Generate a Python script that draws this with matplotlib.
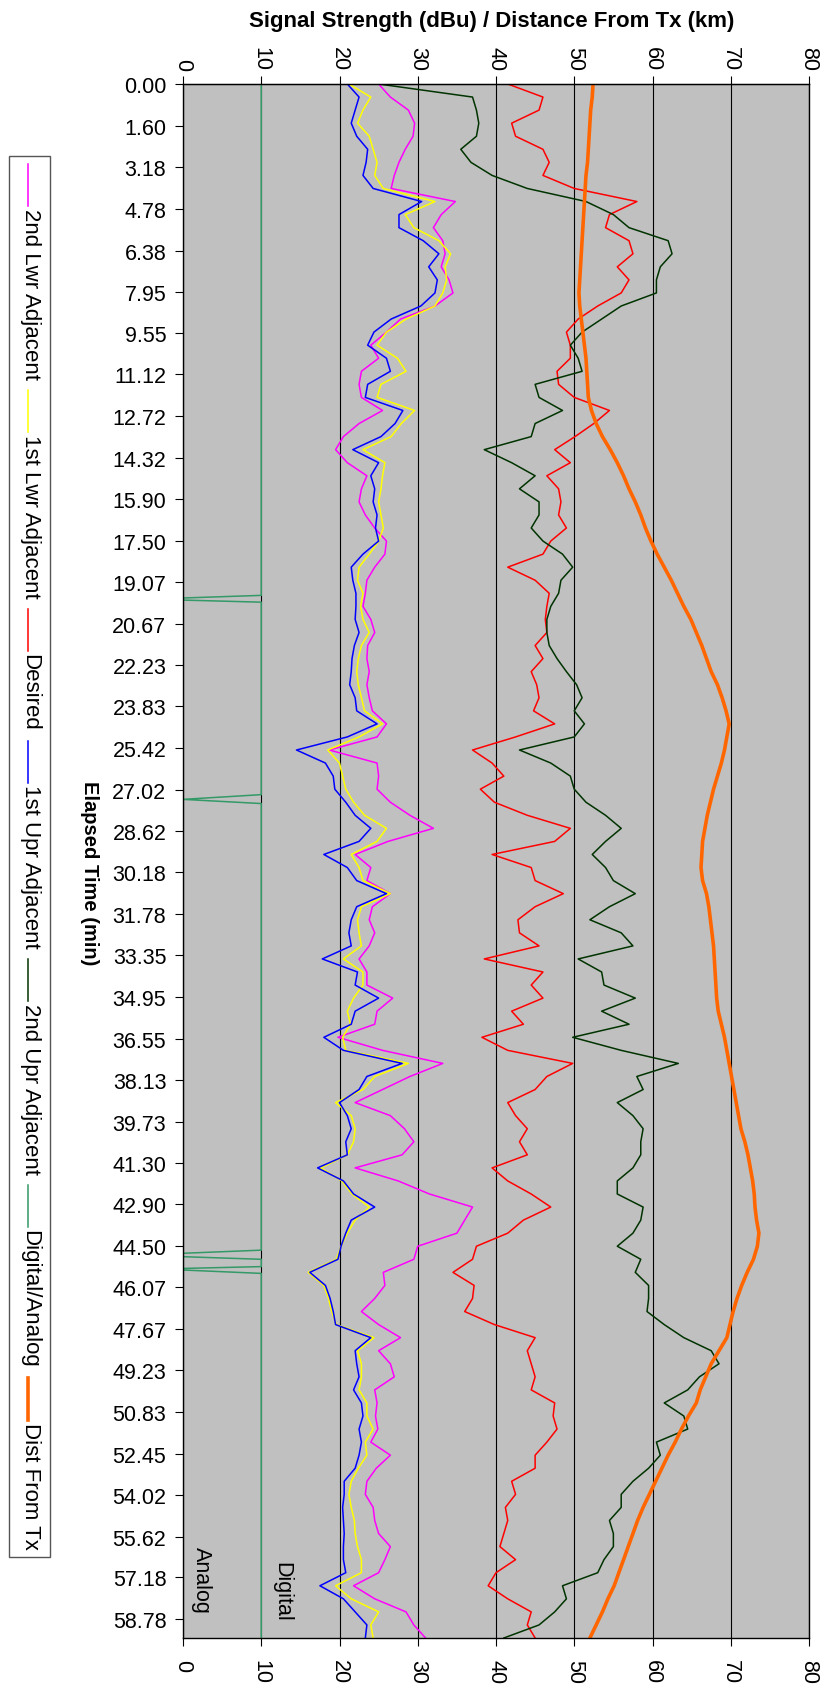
import matplotlib
matplotlib.use('Agg')
import matplotlib.pyplot as plt
import numpy as np
from matplotlib.lines import Line2D
from matplotlib.patches import Rectangle

plt.rcParams['font.family'] = ['Liberation Sans', 'DejaVu Sans']

# elapsed time samples (min), one reading every half minute
minutes = np.arange(0, 60, 0.5)

time_labels = ['0.00', '1.60', '3.18', '4.78', '6.38', '7.95', '9.55', '11.12', '12.72',
               '14.32', '15.90', '17.50', '19.07', '20.67', '22.23', '23.83', '25.42',
               '27.02', '28.62', '30.18', '31.78', '33.35', '34.95', '36.55', '38.13',
               '39.73', '41.30', '42.90', '44.50', '46.07', '47.67', '49.23', '50.83',
               '52.45', '54.02', '55.62', '57.18', '58.78']

lwr2 = [25.0, 26.5, 28.8, 29.6, 29.4, 28.4, 27.6, 27.0, 26.6, 34.8, 33.0, 32.0, 33.2, 33.5, 33.0, 34.0, 34.5, 32.2, 27.8, 26.0, 24.0,
        25.0, 22.8, 22.5, 22.8, 25.5, 22.5, 20.5, 19.5, 21.0, 23.5, 22.8, 22.5, 23.3, 24.5, 26.0, 25.8, 24.5, 23.5, 23.3, 23.0,
        24.0, 24.5, 23.6, 23.5, 23.8, 23.5, 23.8, 24.2, 26.0, 24.8, 18.7, 24.8, 25.0, 24.8, 26.5, 29.0, 32.0, 26.2, 22.0, 24.0,
        23.5, 26.5, 24.2, 23.8, 24.5, 23.8, 22.5, 23.5, 23.5, 26.8, 24.8, 24.5, 19.8, 25.5, 33.2, 29.0, 25.5, 22.0, 26.5, 28.3,
        29.5, 28.0, 22.0, 27.5, 31.5, 37.0, 36.0, 35.0, 30.0, 29.5, 25.6, 25.8, 24.5, 22.8, 25.0, 27.8, 25.0, 26.5, 27.0, 24.5,
        24.8, 24.6, 24.9, 24.0, 26.5, 24.7, 23.5, 23.3, 24.3, 24.5, 25.0, 26.5, 25.8, 25.0, 21.8, 24.5, 28.5, 29.5, 31.0]

lwr1 = [21.2, 24.0, 23.0, 22.3, 23.8, 24.3, 24.8, 24.5, 25.6, 32.2, 28.4, 29.5, 32.7, 34.2, 33.5, 33.7, 33.2, 32.2, 28.5, 26.0, 24.8,
        27.4, 28.5, 25.3, 24.8, 29.6, 27.9, 26.6, 23.0, 25.8, 25.5, 25.3, 25.0, 25.3, 25.6, 25.0, 23.8, 22.5, 22.3, 23.0, 22.7,
        23.0, 23.8, 22.8, 22.4, 22.2, 22.4, 22.8, 23.2, 25.5, 22.5, 18.5, 20.0, 20.4, 20.8, 21.8, 23.2, 26.0, 24.8, 21.5, 22.5,
        23.0, 26.5, 22.8, 22.3, 22.5, 22.8, 20.5, 23.0, 23.0, 21.8, 21.0, 21.4, 20.4, 20.8, 28.8, 24.5, 23.0, 19.5, 21.5, 22.0,
        21.8, 21.0, 17.6, 20.3, 21.6, 23.8, 22.0, 21.0, 20.2, 19.6, 16.0, 18.0, 18.6, 19.0, 19.6, 24.4, 22.3, 22.8, 22.8, 22.5,
        23.5, 23.5, 24.3, 23.3, 23.5, 22.4, 21.5, 21.2, 21.5, 21.9, 22.0, 22.3, 22.8, 22.8, 19.5, 21.5, 25.0, 24.0, 24.3]

desired = [41.5, 46.0, 45.5, 42.0, 42.5, 46.0, 46.8, 46.0, 50.0, 58.0, 54.5, 54.0, 57.0, 57.5, 55.5, 57.0, 56.0, 53.0, 50.5, 49.0, 49.5,
           49.5, 47.8, 48.0, 50.0, 54.5, 52.5, 50.1, 47.5, 49.5, 46.5, 48.0, 48.3, 48.0, 49.0, 47.0, 46.0, 41.5, 45.0, 46.8, 46.5,
           46.3, 46.5, 45.0, 46.0, 44.5, 45.2, 45.5, 44.8, 47.5, 42.5, 37.0, 39.5, 41.0, 38.0, 39.8, 44.0, 49.5, 47.5, 39.5, 44.5,
           45.0, 48.6, 45.0, 42.8, 43.0, 45.5, 38.5, 46.0, 44.5, 46.0, 42.0, 43.5, 38.2, 41.5, 49.8, 46.5, 45.0, 41.5, 42.5, 44.0,
           43.0, 44.0, 39.5, 41.5, 44.5, 47.0, 43.5, 41.5, 37.5, 37.0, 34.5, 37.2, 37.0, 36.0, 39.8, 45.0, 44.0, 44.5, 45.0, 44.5,
           47.5, 47.3, 47.8, 46.5, 45.0, 45.0, 42.0, 42.5, 41.2, 41.5, 41.0, 40.5, 42.5, 40.0, 39.0, 41.5, 44.5, 44.0, 45.0]

upr1 = [21.0, 22.5, 22.0, 21.5, 22.2, 23.6, 23.4, 23.0, 24.3, 30.5, 27.6, 27.6, 30.7, 32.7, 31.4, 32.5, 32.2, 30.4, 26.6, 24.4, 23.6,
        26.0, 26.5, 23.6, 23.3, 28.1, 27.1, 25.3, 21.7, 25.0, 24.0, 24.5, 24.3, 24.8, 24.6, 25.0, 23.0, 21.5, 21.7, 22.1, 22.1,
        22.0, 22.5, 21.9, 21.6, 21.5, 21.3, 22.0, 22.2, 24.8, 21.0, 14.5, 18.2, 19.2, 19.4, 20.8, 22.0, 24.0, 22.5, 18.0, 21.0,
        22.2, 26.0, 22.2, 21.5, 21.2, 21.5, 17.8, 22.3, 22.0, 25.0, 22.0, 21.5, 18.0, 20.5, 28.0, 23.5, 22.5, 20.0, 21.0, 21.5,
        20.8, 21.0, 17.2, 20.5, 21.8, 24.5, 21.5, 20.8, 20.2, 19.8, 16.2, 18.2, 18.8, 19.2, 19.5, 24.0, 22.0, 22.2, 22.5, 21.8,
        22.8, 23.0, 22.5, 22.8, 22.5, 22.0, 20.6, 20.6, 20.4, 20.5, 20.6, 20.5, 20.5, 20.8, 17.5, 20.5, 22.0, 23.5, 23.3]

upr2 = [25.0, 37.0, 37.5, 37.8, 37.5, 35.5, 36.8, 39.5, 44.0, 51.5, 55.0, 57.0, 62.0, 62.5, 61.0, 60.5, 60.5, 56.0, 53.5, 51.0, 49.5,
        50.5, 51.0, 45.0, 45.5, 48.5, 45.0, 44.5, 38.5, 42.0, 45.0, 43.0, 45.5, 45.5, 44.5, 46.0, 48.5, 49.8, 48.3, 48.0, 47.0,
        46.5, 46.5, 46.8, 47.8, 49.0, 50.3, 51.0, 50.0, 51.3, 50.0, 43.0, 47.0, 49.5, 50.0, 51.5, 54.0, 56.0, 54.0, 52.3, 54.0,
        55.0, 57.8, 54.5, 52.0, 56.0, 57.5, 50.5, 53.5, 53.8, 57.8, 53.5, 57.0, 49.8, 56.0, 63.3, 58.0, 58.8, 55.5, 57.5, 58.8,
        58.5, 58.5, 57.5, 55.5, 55.5, 58.8, 58.5, 57.5, 55.5, 58.5, 57.8, 59.5, 59.5, 59.3, 61.5, 64.0, 67.5, 68.5, 66.0, 64.5,
        61.5, 64.0, 64.5, 60.5, 61.0, 59.5, 57.5, 56.0, 56.0, 54.5, 55.0, 55.0, 53.8, 53.0, 48.5, 49.0, 47.5, 45.5, 41.0]

dist_km = [52.4, 52.3, 52.1, 52.0, 51.9, 51.8, 51.7, 51.5, 51.4, 51.3, 51.2, 51.1, 51.0, 50.9, 50.8, 50.7, 50.6, 50.7, 50.9, 51.1, 51.3,
           51.5, 51.6, 51.7, 51.8, 52.2, 52.8, 53.6, 54.6, 55.5, 56.3, 57.0, 57.8, 58.5, 59.1, 59.8, 60.6, 61.5, 62.4, 63.2, 64.0,
           64.9, 65.6, 66.3, 66.9, 67.5, 68.3, 68.9, 69.4, 69.8, 69.5, 69.2, 68.8, 68.3, 67.8, 67.4, 67.0, 66.7, 66.4, 66.3, 66.2,
           66.4, 66.9, 67.2, 67.4, 67.6, 67.8, 67.9, 68.0, 68.1, 68.2, 68.4, 68.8, 69.2, 69.5, 69.8, 70.1, 70.4, 70.7, 71.0, 71.3,
           71.8, 72.2, 72.5, 72.8, 73.0, 73.1, 73.3, 73.6, 73.4, 72.9, 72.1, 71.4, 70.8, 70.3, 69.9, 69.5, 68.5, 67.5, 66.8, 66.1,
           65.6, 64.6, 63.7, 62.9, 62.0, 61.2, 60.4, 59.6, 58.8, 58.1, 57.5, 56.9, 56.3, 55.7, 55.1, 54.3, 53.6, 52.8, 52.0]

# digital (10) / analog (0) flag, with its own change times
digital_t = [0, 19.58, 19.68, 19.76, 19.84, 27.21, 27.39, 27.55, 44.65, 44.77, 44.90, 45.0,
             45.28, 45.35, 45.41, 45.54, 59.5]
digital_v = [10, 10, 0, 0, 10, 10, 0, 10, 10, 0, 0, 10, 10, 0, 0, 10, 10]

W, H = 827, 1690
fig = plt.figure(figsize=(W / 100, H / 100), dpi=100)
ax = fig.add_axes([183 / W, 1 - 1639 / H, (809 - 183) / W, (1639 - 85) / H])
ax.set_facecolor('#c0c0c0')

# series in drawing order: name, values, colour, width
series = [
    ('2nd Lwr Adjacent', lwr2, '#ff00ff', 1.1),
    ('1st Lwr Adjacent', lwr1, '#ffff00', 1.1),
    ('Desired', desired, '#ff0000', 1.1),
    ('1st Upr Adjacent', upr1, '#0000ff', 1.1),
    ('2nd Upr Adjacent', upr2, '#003300', 1.1),
]
for name, vals, col, lw in series:
    ax.plot(vals, minutes, color=col, lw=lw)
ax.plot(digital_v, digital_t, color='#339966', lw=1.1)
ax.plot(dist_km, minutes, color='#ff6600', lw=2.6)

ax.set_xlim(0, 80)
ax.set_ylim(59.5, 0)
ax.set_xticks(np.arange(0, 81, 10))
ax.set_yticks([float(s) for s in time_labels])
ax.set_yticklabels(time_labels)
ax.xaxis.grid(True, color='black', lw=0.8)
ax.set_axisbelow(True)
for sp in ax.spines.values():
    sp.set_color('black')
    sp.set_linewidth(1.0)

ax.tick_params(axis='x', length=6, width=0.8, pad=9, labelsize=15.5, labelrotation=-90)
ax.tick_params(axis='y', length=6, width=0.8, pad=6, labelsize=15.5)
sec = ax.secondary_xaxis('top')
sec.set_xticks(np.arange(0, 81, 10))
sec.tick_params(length=6, width=0.8, pad=4, labelsize=15.5, labelrotation=-90)

ax.text(2.4, 57.25, 'Analog', rotation=-90, ha='center', va='center', fontsize=15.5)
ax.text(12.6, 57.7, 'Digital', rotation=-90, ha='center', va='center', fontsize=15.5)

fig.text(492 / W, 1 - 22 / H, 'Signal Strength (dBu) / Distance From Tx (km)',
         ha='center', va='center', fontsize=16, fontweight='bold')
fig.text(89 / W, 1 - 873 / H, 'Elapsed Time (min)', rotation=-90,
         ha='center', va='center', fontsize=14.5, fontweight='bold')

# legend, drawn by hand because it is turned on its side
legend_items = [(s[0], s[2], s[3]) for s in series] + [('Digital/Analog', '#339966', 1.1),
                                                      ('Dist From Tx', '#ff6600', 2.6)]
renderer = fig.canvas.get_renderer()
y = 165
for name, col, lw in legend_items:
    fig.add_artist(Line2D([28 / W, 28 / W], [1 - y / H, 1 - (y + 42) / H],
                          color=col, lw=lw, transform=fig.transFigure))
    y += 44
    t = fig.text(30 / W, 1 - y / H, name, rotation=-90, ha='center', va='top', fontsize=16)
    y += t.get_window_extent(renderer).height + 11
box_bottom = y - 3
fig.add_artist(Rectangle((9 / W, 1 - box_bottom / H), 41 / W, (box_bottom - 157) / H,
                         transform=fig.transFigure, fill=False, edgecolor='#555555', lw=1))

fig.savefig('out.png', dpi=100)
